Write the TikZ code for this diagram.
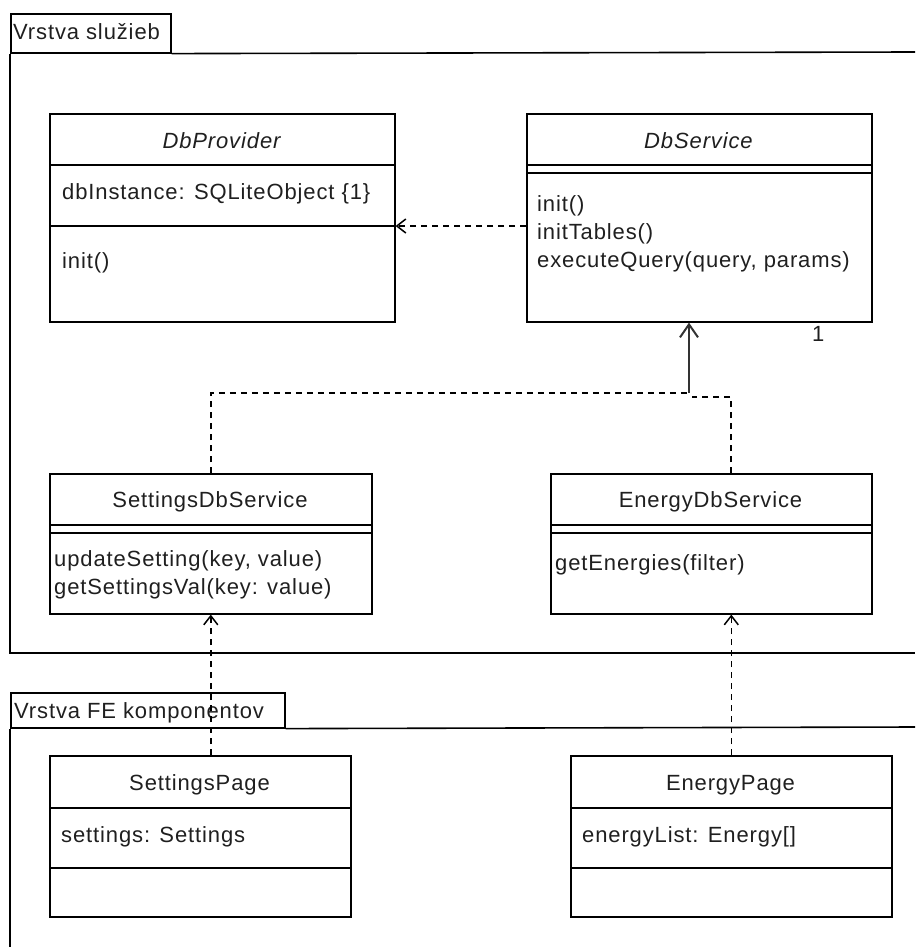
\documentclass[tikz,border=0pt]{standalone}
\usepackage{fontspec}
\setmainfont{Liberation Sans}[LetterSpace=4]
\usetikzlibrary{arrows.meta,calc}

\begin{document}
\begin{tikzpicture}[x=1pt,y=-1pt,
  font=\fontsize{22}{28}\selectfont,
  every node/.style={inner sep=0pt,text=black!88},
  classbox/.style={draw=black,line width=1.6pt,anchor=north west},
  sepline/.style={draw=black,line width=1.6pt},
  frameline/.style={draw=black,line width=1.6pt},
  title/.style={anchor=base},
  member/.style={anchor=base west},
  dep/.style={draw=black,line width=1.5pt,dash pattern=on 6pt off 5pt,
    -{Straight Barb[length=9pt,width=14pt]}},
  real/.style={draw=black,line width=1.5pt,dash pattern=on 6pt off 5pt},
  merged/.style={draw=black!80,line width=2pt,
    -{Straight Barb[length=13pt,width=18pt]}}
]
\useasboundingbox (0,0) rectangle (915,947);

% ---------- service layer frame ----------
\node[classbox,minimum width=160,minimum height=39] (tab1) at (10,13) {};
\node[member] (tab1t) at (13,40) {Vrstva služieb};
\draw[frameline] (tab1.south east) -- (915,52);
\draw[frameline] (tab1.south west) -- (10,653) -- (915,653);

% ---------- FE component layer frame ----------
\node[classbox,minimum width=274,minimum height=35] (tab2) at (10,692) {};
\node[member] (tab2t) at (14,718) {Vrstva FE komponentov};
\draw[frameline] (tab2.south east) -- (915,727);
\draw[frameline] (tab2.south west) -- (10,947);

% ---------- DbProvider ----------
\node[classbox,minimum width=345,minimum height=208] (dbprov) at (49,113) {};
\draw[sepline] ($(dbprov.north west)+(0,52)$) -- ($(dbprov.north east)+(0,52)$);
\draw[sepline] ($(dbprov.north west)+(0,113)$) -- ($(dbprov.north east)+(0,113)$);
\node[title] (dbprovT) at (221.5,148) {\itshape DbProvider};
\node[member] (dbprovA) at (62,199) {dbInstance: SQLiteObject \{1\}};
\node[member] (dbprovM) at (62,268) {init()};

% ---------- DbService ----------
\node[classbox,minimum width=345,minimum height=208] (dbserv) at (526,113) {};
\draw[sepline] ($(dbserv.north west)+(0,52)$) -- ($(dbserv.north east)+(0,52)$);
\draw[sepline] ($(dbserv.north west)+(0,60)$) -- ($(dbserv.north east)+(0,60)$);
\node[title] (dbservT) at (698.5,148) {\itshape DbService};
\node[member] (dbservM1) at (537,211) {init()};
\node[member] (dbservM2) at (537,239) {initTables()};
\node[member] (dbservM3) at (537,267) {executeQuery(query, params)};
\node[member] (mult) at (812,341) {1};

% ---------- SettingsDbService ----------
\node[classbox,minimum width=322,minimum height=140] (setdb) at (49,473) {};
\draw[sepline] ($(setdb.north west)+(0,52)$) -- ($(setdb.north east)+(0,52)$);
\draw[sepline] ($(setdb.north west)+(0,60)$) -- ($(setdb.north east)+(0,60)$);
\node[title] (setdbT) at (210,507) {SettingsDbService};
\node[member] (setdbM1) at (54,566) {updateSetting(key, value)};
\node[member] (setdbM2) at (54,594) {getSettingsVal(key: value)};

% ---------- EnergyDbService ----------
\node[classbox,minimum width=321,minimum height=140] (enedb) at (550,473) {};
\draw[sepline] ($(enedb.north west)+(0,52)$) -- ($(enedb.north east)+(0,52)$);
\draw[sepline] ($(enedb.north west)+(0,60)$) -- ($(enedb.north east)+(0,60)$);
\node[title] (enedbT) at (710.5,507) {EnergyDbService};
\node[member] (enedbM1) at (555,570) {getEnergies(filter)};

% ---------- SettingsPage ----------
\node[classbox,minimum width=301,minimum height=161] (setpage) at (49,755) {};
\draw[sepline] ($(setpage.north west)+(0,53)$) -- ($(setpage.north east)+(0,53)$);
\draw[sepline] ($(setpage.north west)+(0,113)$) -- ($(setpage.north east)+(0,113)$);
\node[title] (setpageT) at (199.5,790) {SettingsPage};
\node[member] (setpageA) at (61,842) {settings: Settings};

% ---------- EnergyPage ----------
\node[classbox,minimum width=321,minimum height=161] (enepage) at (570,755) {};
\draw[sepline] ($(enepage.north west)+(0,53)$) -- ($(enepage.north east)+(0,53)$);
\draw[sepline] ($(enepage.north west)+(0,113)$) -- ($(enepage.north east)+(0,113)$);
\node[title] (enepageT) at (730.5,790) {EnergyPage};
\node[member] (enepageA) at (582,842) {energyList: Energy[]};

% ---------- connectors ----------
\coordinate (provrow) at (0,226);
\coordinate (jn) at (689,393);
\coordinate (jnE) at (692,397);
\coordinate (eneX) at (731,0);

% DbService uses DbProvider
\draw[dep] (dbserv.west |- provrow) -- (dbprov.east |- provrow);

% both services realize DbService
\draw[real] (setdb.north) |- (jn);
\draw[real] (enedb.north -| eneX) |- (jnE);
\draw[merged] (jn) -- (dbserv.south -| jn);

% pages use their services
\draw[dep] (setpage.north -| setdb.south) -- (setdb.south);
\draw[dep] (enepage.north) -- (enedb.south -| enepage.north);

\end{tikzpicture}
\end{document}
